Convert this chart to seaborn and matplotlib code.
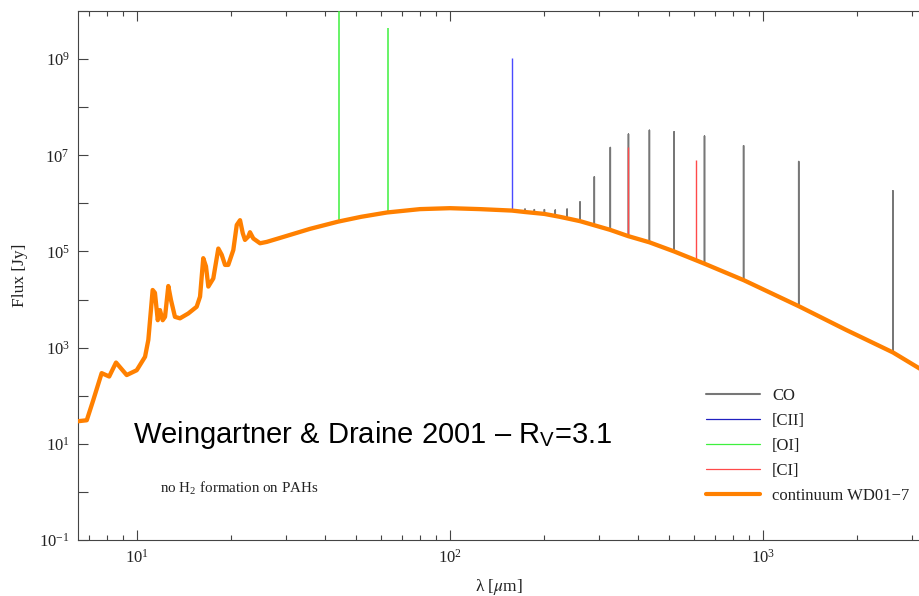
import numpy as np
import pandas as pd
import matplotlib
matplotlib.use("Agg")
import matplotlib.pyplot as plt
import matplotlib.ticker as mticker
from matplotlib.lines import Line2D
import seaborn as sns

# ---------------- data ----------------
cont_wl = [6.48, 6.91, 7.25, 7.71, 8.15, 8.57, 9.27, 9.98, 10.61, 10.87, 11.22, 11.41,
           11.65, 11.84, 12.08, 12.29, 12.59, 12.84, 13.22, 13.72, 14.58, 15.51, 15.90,
           16.28, 16.61, 16.90, 17.53, 18.19, 18.65, 19.11, 19.57, 20.31, 20.83, 21.34,
           21.77, 22.13, 22.68, 22.96, 23.53, 24.72, 25.97, 28.63, 35.7, 43.9, 52.0,
           62.9, 80.2, 100.0, 124.7, 157.7, 173.6, 200.3, 224.4, 260.2, 324.5, 370.4,
           433.6, 520.2, 648.0, 870.0, 1303.0, 1842.0, 2602.0, 3175.0]
cont_flux = [29.5, 30.9, 81.3, 295, 251, 490, 269, 339, 646, 1450, 1.58e4, 1.38e4,
             3720, 6030, 3720, 4370, 1.91e4, 9770, 4370, 4070, 5130, 7080, 1.15e4,
             7.24e4, 4.90e4, 1.86e4, 2.75e4, 1.15e5, 8.51e4, 5.25e4, 5.25e4, 1.07e5,
             3.55e5, 4.47e5, 2.40e5, 1.74e5, 2.04e5, 2.51e5, 1.86e5, 1.48e5, 1.58e5,
             1.91e5, 2.95e5, 4.17e5, 5.25e5, 6.46e5, 7.59e5, 7.94e5, 7.59e5, 7.08e5,
             6.61e5, 6.03e5, 5.25e5, 4.27e5, 2.82e5, 2.09e5, 1.55e5, 1.00e5, 5.62e4,
             2.51e4, 7240, 2340, 794, 363]

co_wl = [173.63, 185.99, 200.27, 216.93, 236.61, 260.24, 289.12, 325.23, 371.65,
         433.56, 520.23, 650.25, 866.96, 1300.40, 2600.76]
co_base = [6.61e5, 6.31e5, 6.03e5, 5.50e5, 4.90e5, 4.17e5, 3.55e5, 2.82e5, 2.09e5,
           1.55e5, 1.00e5, 5.75e4, 2.51e4, 7240, 794]
co_peak = [7.59e5, 7.41e5, 7.41e5, 7.24e5, 7.59e5, 1.07e6, 3.55e6, 1.45e7, 2.75e7,
           3.31e7, 3.09e7, 2.51e7, 1.58e7, 7.41e6, 1.82e6]

cii_wl = [157.74]
cii_base = [7.08e5]
cii_peak = [1.05e9]

oi_wl = [44.06, 63.18]
oi_base = [4.17e5, 6.46e5]
oi_peak = [3.0e10, 4.37e9]

ci_wl = [370.42, 609.14]
ci_base = [2.09e5, 6.90e4]
ci_peak = [1.51e7, 7.94e6]

legend_labels = ["CO", "[CII]", "[OI]", "[CI]", "continuum WD01\u22127"]
ytick_exps = [-1, 1, 3, 5, 7, 9]

# ---------------- style ----------------
sns.set_theme(style="ticks")
plt.rcParams["font.family"] = ["Liberation Serif", "DejaVu Serif"]
plt.rcParams["mathtext.fontset"] = "stix"

W, H = 920, 596
fig = plt.figure(figsize=(W / 100, H / 100), dpi=100)
L, R, T, B = 78, 920, 11, 540
ax = fig.add_axes([L / W, 1 - B / H, (R - L) / W, (B - T) / H])
ax.set_xscale("log")
ax.set_yscale("log")

c_co = "#777777"
c_cii = "#4a4aff"
c_oi = "#3ef03e"
c_ci = "#ff4a4a"
c_cont = "#ff8000"

# CO spectrum as a connected polyline (base -> peak -> base for each line)
xs, ys = [], []
for w, b0, p in zip(co_wl, co_base, co_peak):
    xs += [w, w, w]
    ys += [b0, p, b0]
df_co = pd.DataFrame({"wl": xs, "flux": ys})
sns.lineplot(data=df_co, x="wl", y="flux", sort=False, estimator=None,
             color=c_co, lw=1.1, ax=ax, zorder=2)

ax.vlines(ci_wl, ci_base, ci_peak, color=c_ci, lw=1.0, zorder=3)
ax.vlines(oi_wl, oi_base, oi_peak, color=c_oi, lw=1.1, zorder=3)
ax.vlines(cii_wl, cii_base, cii_peak, color=c_cii, lw=1.0, zorder=3)

df_c = pd.DataFrame({"wl": cont_wl, "flux": cont_flux})
sns.lineplot(data=df_c, x="wl", y="flux", sort=False, estimator=None,
             color=c_cont, lw=3.1, ax=ax, zorder=5, solid_capstyle="round",
             solid_joinstyle="round")

xmin = 10 ** (1 - (137 - L) / 313)
xmax = 10 ** (1 + (R - 137) / 313)
ax.set_xlim(xmin, xmax)
ax.set_ylim(1e-1, 1e10)

# ticks
ax.yaxis.set_major_locator(mticker.FixedLocator([10.0 ** e for e in range(-1, 11)]))
ax.yaxis.set_minor_locator(mticker.NullLocator())
def yfmt(v, pos):
    e = int(round(np.log10(v)))
    return r"$\mathregular{10^{%d}}$" % e if e in ytick_exps else ""
ax.yaxis.set_major_formatter(mticker.FuncFormatter(yfmt))
ax.xaxis.set_major_locator(mticker.FixedLocator([10, 100, 1000]))
ax.xaxis.set_major_formatter(mticker.FuncFormatter(
    lambda v, p: r"$\mathregular{10^{%d}}$" % int(round(np.log10(v)))))
ax.xaxis.set_minor_locator(mticker.LogLocator(base=10, subs=np.arange(2, 10), numticks=20))
ax.xaxis.set_minor_formatter(mticker.NullFormatter())

spc = "#444444"
ax.tick_params(axis="both", which="both", direction="in", color=spc, width=0.8,
               labelsize=12, labelcolor="#222222", pad=6)
ax.tick_params(axis="x", which="both", top=True, bottom=True)
ax.tick_params(axis="y", which="both", left=True, right=False)
ax.tick_params(which="major", length=7)
ax.tick_params(axis="x", which="minor", length=3.5)
for s in ["left", "bottom", "top"]:
    ax.spines[s].set_color(spc)
    ax.spines[s].set_linewidth(0.8)
ax.spines["right"].set_visible(False)

ax.set_xlabel(r"λ [$\mu$m]", fontsize=12.5, labelpad=8, color="#222222")
ax.set_ylabel("Flux [Jy]", fontsize=12.5, labelpad=8, color="#222222")

# texts
fig.text(133 / W, 1 - 443 / H, r"Weingartner & Draine 2001 – R$_\mathregular{V}$=3.1",
         family=["Liberation Sans", "DejaVu Sans"], fontsize=21, color="black",
         va="baseline", ha="left")
fig.text(160 / W, 1 - 493 / H, r"no H$_\mathregular{2}$ formation on PAHs",
         fontsize=10.8, color="#222222", va="baseline", ha="left")

# legend
handles = [Line2D([], [], color=c_co, lw=1.5),
           Line2D([], [], color="#2020c0", lw=0.9),
           Line2D([], [], color=c_oi, lw=0.9),
           Line2D([], [], color=c_ci, lw=0.9),
           Line2D([], [], color=c_cont, lw=3.0)]
leg = fig.legend(handles, legend_labels, loc="upper left",
                 bbox_to_anchor=(706 / W, 1 - 388 / H), frameon=False,
                 fontsize=12, handlelength=3.25, handletextpad=0.72,
                 labelspacing=0.54, borderpad=0, borderaxespad=0)
for t in leg.get_texts():
    t.set_color("#222222")

fig.savefig("out.png", dpi=100)
